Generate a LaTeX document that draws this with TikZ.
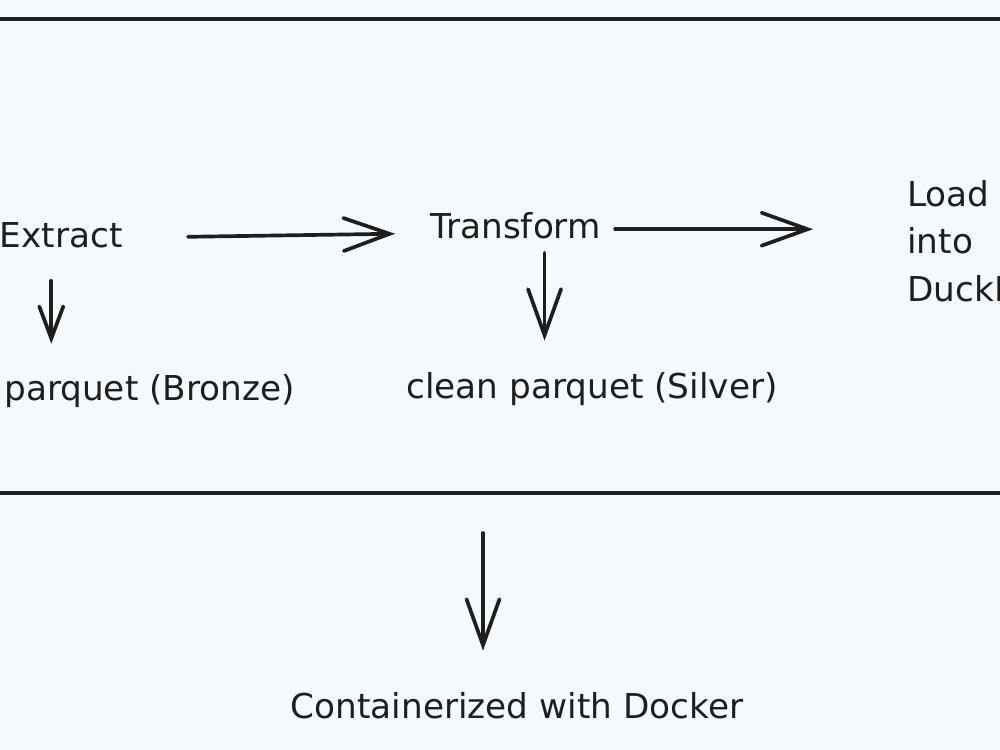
\documentclass[tikz,border=0pt]{standalone}
\usepackage{fontspec}
\setmainfont{DejaVu Sans}
\usepackage{xcolor}
\usetikzlibrary{arrows.meta,positioning,calc}
\definecolor{paper}{RGB}{244,249,253}
\definecolor{ink}{RGB}{30,30,30}
\tikzset{
  lbl/.style={inner sep=0pt, text=ink, font=\fontsize{19.5}{27}\selectfont},
  flow/.style={draw=ink, line width=2.1pt, line cap=round,
               -{Straight Barb[length=0.92cm,width=0.66cm,line cap=round]}},
  flowsmall/.style={flow, -{Straight Barb[length=0.64cm,width=0.48cm,line cap=round]}},
  frameline/.style={draw=ink, line width=1.8pt}
}

\begin{document}
\begin{tikzpicture}[x=0.02cm, y=-0.02cm]
\fill[paper] (0,0) rectangle (1000,750);
\useasboundingbox (0,0) rectangle (1000,750);
\clip (0,0) rectangle (1000,750);
\draw[frameline] (-20,19) rectangle (1020,493);
\coordinate (frame bottom) at (483,493);

\node[lbl, anchor=base east] (extract) at (123,247) {Extract};
\node[lbl, anchor=base west] (transform) at (430,238) {Transform};
\node[lbl, anchor=north west, align=left] (load) at (907,180) {Load\\into\\DuckDB};
\node[lbl, anchor=base east] (bronze) at (295,400) {parquet (Bronze)};
\node[lbl, anchor=base] (silver) at (592,398) {clean parquet (Silver)};
\node[lbl, anchor=base] (docker) at (517,718) {Containerized with Docker};

\draw[flow, shorten <=1.3cm, shorten >=0.7cm]
  ([yshift=-0.06cm]extract.east) -- ([yshift=-0.16cm]transform.west);
\draw[flow, shorten <=0.28cm, shorten >=1.88cm]
  ([yshift=-0.08cm]transform.east) -- ([yshift=-0.08cm]transform.east -| load.west);
\draw[flowsmall, shorten <=0.66cm, shorten >=0.6cm]
  ([xshift=-0.2cm]extract.south) -- ([xshift=-0.2cm]extract.south |- bronze.north);
\draw[flow, shorten <=0.28cm, shorten >=0.62cm]
  ([xshift=0.58cm]transform.south) -- ([xshift=0.58cm]transform.south |- silver.north);
\draw[flow, shorten <=0.8cm, shorten >=0.82cm] (frame bottom) -- (frame bottom |- docker.north);
\end{tikzpicture}
\end{document}
